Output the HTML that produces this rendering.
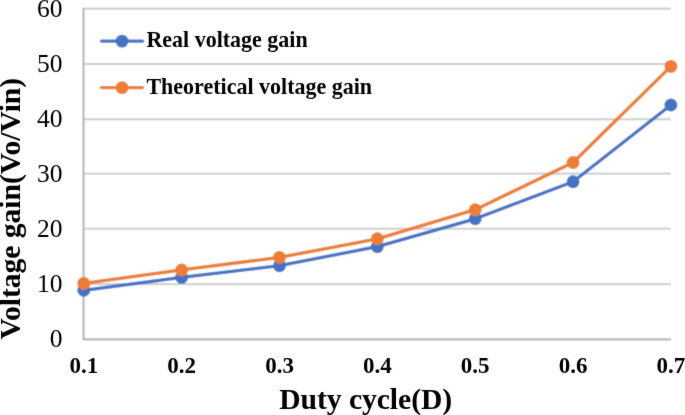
<!DOCTYPE html>
<html><head><meta charset="utf-8"><style>
html,body{margin:0;padding:0;background:#fff;overflow:hidden;}
svg{display:block;}
text{font-family:"Liberation Serif",serif;fill:#000;}
.yl{font-size:25.5px;}
.xl{font-size:23px;font-weight:bold;}
.lg{font-size:22.5px;font-weight:bold;}
.at{font-size:29.7px;font-weight:bold;}
</style></head><body>
<svg width="685" height="415" viewBox="0 0 685 415">
<defs><filter id="bl" x="0" y="0" width="685" height="415" filterUnits="userSpaceOnUse"><feConvolveMatrix order="3" kernelMatrix="0.02768 0.11101 0.02768 0.11101 0.44521 0.11101 0.02768 0.11101 0.02768" edgeMode="duplicate"/></filter><filter id="tb" x="0" y="0" width="685" height="415" filterUnits="userSpaceOnUse"><feConvolveMatrix order="3" kernelMatrix="0.00524 0.06192 0.00524 0.06192 0.73137 0.06192 0.00524 0.06192 0.00524" edgeMode="none"/></filter></defs>
<g filter="url(#bl)">
<rect x="0" y="0" width="685" height="415" fill="#fff"/>
<rect x="84.5" y="283.15" width="586.4" height="2" fill="#CDCDCD"/>
<rect x="84.5" y="227.70" width="586.4" height="2" fill="#CDCDCD"/>
<rect x="84.5" y="172.65" width="586.4" height="2" fill="#CDCDCD"/>
<rect x="84.5" y="118.30" width="586.4" height="2" fill="#CDCDCD"/>
<rect x="84.5" y="63.00" width="586.4" height="2" fill="#CDCDCD"/>
<rect x="84.5" y="7.65" width="586.4" height="2" fill="#CDCDCD"/>
<rect x="82.5" y="7.65" width="2" height="331.75" fill="#B1B1B1"/>
<rect x="82.5" y="338.40" width="588.4" height="2" fill="#B1B1B1"/>
<polyline points="83.80,290.30 181.65,277.40 279.50,265.70 377.35,246.60 475.20,218.80 573.05,181.70 670.90,105.00" fill="none" stroke="#4472C4" stroke-width="3.3" stroke-linejoin="round"/>
<circle cx="83.80" cy="290.30" r="6.45" fill="#4472C4"/>
<circle cx="181.65" cy="277.40" r="6.45" fill="#4472C4"/>
<circle cx="279.50" cy="265.70" r="6.45" fill="#4472C4"/>
<circle cx="377.35" cy="246.60" r="6.45" fill="#4472C4"/>
<circle cx="475.20" cy="218.80" r="6.45" fill="#4472C4"/>
<circle cx="573.05" cy="181.70" r="6.45" fill="#4472C4"/>
<circle cx="670.90" cy="105.00" r="6.45" fill="#4472C4"/>
<polyline points="83.80,283.40 181.65,269.96 279.50,257.40 377.35,238.80 475.20,209.70 573.05,162.50 670.90,66.40" fill="none" stroke="#ED7D31" stroke-width="3.3" stroke-linejoin="round"/>
<circle cx="83.80" cy="283.40" r="6.45" fill="#ED7D31"/>
<circle cx="181.65" cy="269.96" r="6.45" fill="#ED7D31"/>
<circle cx="279.50" cy="257.40" r="6.45" fill="#ED7D31"/>
<circle cx="377.35" cy="238.80" r="6.45" fill="#ED7D31"/>
<circle cx="475.20" cy="209.70" r="6.45" fill="#ED7D31"/>
<circle cx="573.05" cy="162.50" r="6.45" fill="#ED7D31"/>
<circle cx="670.90" cy="66.40" r="6.45" fill="#ED7D31"/>
<line x1="101.5" y1="41.1" x2="142.6" y2="41.1" stroke="#4472C4" stroke-width="3.3" stroke-linecap="round"/>
<circle cx="122" cy="41.1" r="6.45" fill="#4472C4"/>
<line x1="101.5" y1="87.6" x2="142.6" y2="87.6" stroke="#ED7D31" stroke-width="3.3" stroke-linecap="round"/>
<circle cx="122" cy="87.6" r="6.45" fill="#ED7D31"/>
</g>
<g filter="url(#tb)">
<text x="62.6" y="347.40" text-anchor="end" class="yl">0</text>
<text x="62.6" y="292.15" text-anchor="end" class="yl">10</text>
<text x="62.6" y="236.70" text-anchor="end" class="yl">20</text>
<text x="62.6" y="181.65" text-anchor="end" class="yl">30</text>
<text x="62.6" y="127.30" text-anchor="end" class="yl">40</text>
<text x="62.6" y="72.00" text-anchor="end" class="yl">50</text>
<text x="62.6" y="16.65" text-anchor="end" class="yl">60</text>
<text x="83.80" y="372.7" text-anchor="middle" class="xl">0.1</text>
<text x="181.65" y="372.7" text-anchor="middle" class="xl">0.2</text>
<text x="279.50" y="372.7" text-anchor="middle" class="xl">0.3</text>
<text x="377.35" y="372.7" text-anchor="middle" class="xl">0.4</text>
<text x="475.20" y="372.7" text-anchor="middle" class="xl">0.5</text>
<text x="573.05" y="372.7" text-anchor="middle" class="xl">0.6</text>
<text x="670.90" y="372.7" text-anchor="middle" class="xl">0.7</text>
<text x="146.4" y="47.10" class="lg" textLength="161.3" lengthAdjust="spacingAndGlyphs">Real voltage gain</text>
<text x="146.4" y="93.60" class="lg" textLength="225.7" lengthAdjust="spacingAndGlyphs">Theoretical voltage gain</text>
<text x="279.2" y="408.9" class="at" textLength="173.0">Duty cycle(D)</text>
<text transform="translate(20.0,339.6) rotate(-90)" x="0" y="0" class="at" textLength="261.8">Voltage gain(Vo/Vin)</text>
</g>
</svg>
</body></html>
